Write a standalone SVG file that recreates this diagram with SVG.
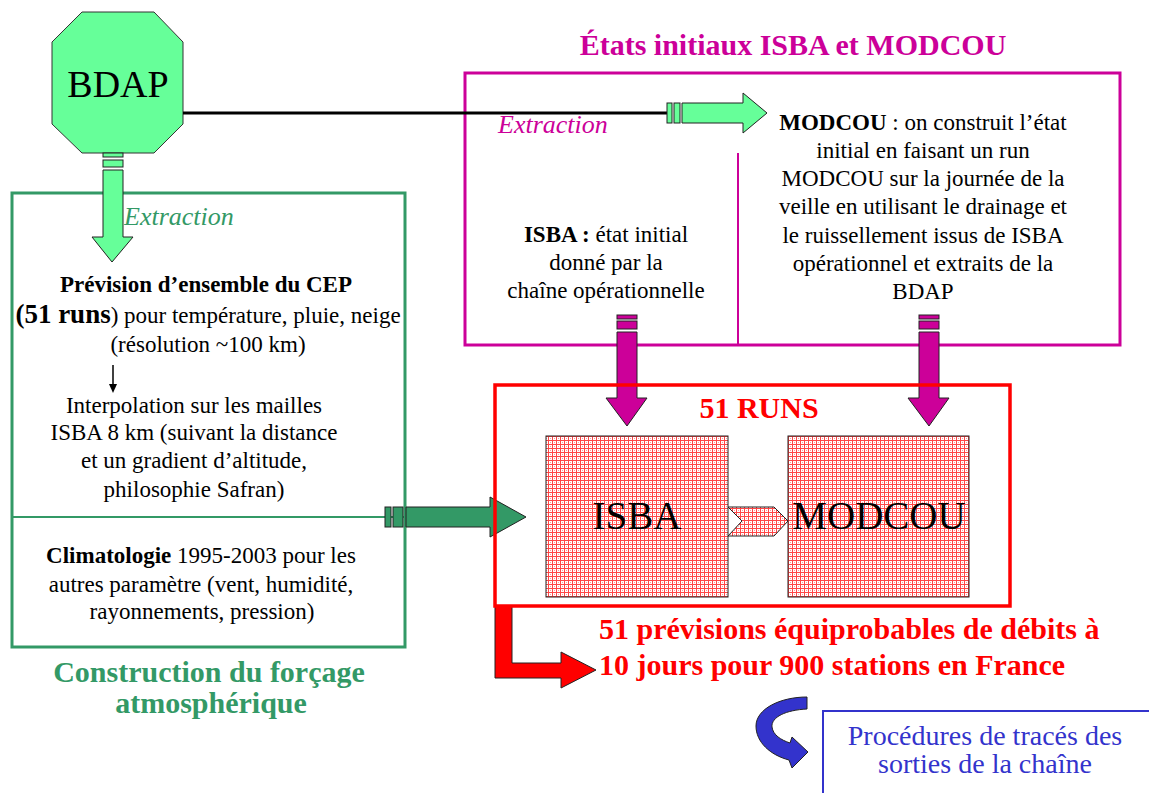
<svg xmlns="http://www.w3.org/2000/svg" width="1149" height="793" viewBox="0 0 1149 793">
<style>
.t{font-family:"Liberation Serif","Times New Roman",Tinos,"DejaVu Serif","Noto Serif",serif;font-size:23px;fill:#000}
.b{font-weight:bold}
.c{text-anchor:middle}
.ar{stroke:#222;stroke-width:1}
</style>
<defs>
<pattern id="hatch" width="4" height="4" patternUnits="userSpaceOnUse">
<rect width="4" height="4" fill="#fff"/>
<path d="M0 0.5H4M0.5 0V4" stroke="#ff4646" stroke-width="1"/>
<rect x="2" y="2" width="1" height="1" fill="#ff9a9a"/>
</pattern>
</defs>
<rect width="1149" height="793" fill="#fff"/>

<g id="etats">
<rect x="465" y="73" width="655" height="272" fill="none" stroke="#cc0099" stroke-width="3"/>
<line x1="738" y1="153" x2="738" y2="345" stroke="#cc0099" stroke-width="2"/>
<text class="t b c" x="793" y="55" style="font-size:30px;fill:#cc0099">États initiaux ISBA et MODCOU</text>
<text class="t c" x="606" y="242"><tspan class="b">ISBA :</tspan> état initial</text>
<text class="t c" x="606" y="270">donné par la</text>
<text class="t c" x="606" y="298">chaîne opérationnelle</text>
<text class="t c" x="923" y="130"><tspan class="b">MODCOU</tspan> : on construit l’état</text>
<text class="t c" x="923" y="158">initial en faisant un run</text>
<text class="t c" x="923" y="186">MODCOU sur la journée de la</text>
<text class="t c" x="923" y="214">veille en utilisant le drainage et</text>
<text class="t c" x="923" y="243">le ruissellement issus de ISBA</text>
<text class="t c" x="923" y="271">opérationnel et extraits de la</text>
<text class="t c" x="923" y="299">BDAP</text>
</g>

<g id="forcage">
<rect x="12" y="193" width="393" height="454" fill="none" stroke="#339966" stroke-width="3"/>
<line x1="12" y1="517" x2="405" y2="517" stroke="#339966" stroke-width="2"/>
<text class="t b c" x="206" y="292">Prévision d’ensemble du CEP</text>
<text class="t c" x="208" y="323"><tspan class="b" style="font-size:27px">(51 runs</tspan>) pour température, pluie, neige</text>
<text class="t c" x="208" y="352">(résolution ~100 km)</text>
<line x1="113" y1="365" x2="113" y2="385" stroke="#000" stroke-width="1.5"/>
<polygon points="109,384 117,384 113,393" fill="#000"/>
<text class="t c" x="194" y="413">Interpolation sur les mailles</text>
<text class="t c" x="194" y="440">ISBA 8 km (suivant la distance</text>
<text class="t c" x="194" y="468">et un gradient d’altitude,</text>
<text class="t c" x="194" y="497">philosophie Safran)</text>
<text class="t c" x="201" y="563"><tspan class="b">Climatologie</tspan> 1995-2003 pour les</text>
<text class="t c" x="201" y="592">autres paramètre (vent, humidité,</text>
<text class="t c" x="202" y="619">rayonnements, pression)</text>
<text class="t b c" x="209" y="682" style="font-size:30px;fill:#339966">Construction du forçage</text>
<text class="t b c" x="211" y="713" style="font-size:30px;fill:#339966">atmosphérique</text>
</g>

<g id="bdap">
<polygon points="82,12 154,12 183,42 183,124 154,153 82,153 52,124 52,42" fill="#66ff99" stroke="#333" stroke-width="1"/>
<text class="t c" x="118" y="97" style="font-size:38px">BDAP</text>
</g>

<g id="connectors">
<line x1="183" y1="113" x2="667" y2="113" stroke="#000" stroke-width="3"/>
<rect class="ar" x="667" y="103" width="5" height="20" fill="#66ff99"/>
<rect class="ar" x="674" y="103" width="6" height="20" fill="#66ff99"/>
<polygon class="ar" points="682,103 743,103 743,93 767,113 743,133 743,123 682,123" fill="#66ff99"/>
<text class="t" x="498" y="133" style="font-size:26px;font-style:italic;fill:#cc0099">Extraction</text>

<rect class="ar" x="103" y="153" width="20" height="4" fill="#66ff99"/>
<rect class="ar" x="103" y="160" width="20" height="7" fill="#66ff99"/>
<polygon class="ar" points="103,170 123,170 123,237 133,237 112,262 92,237 103,237" fill="#66ff99"/>
<text class="t" x="124" y="225" style="font-size:26px;font-style:italic;fill:#339966">Extraction</text>

<rect class="ar" x="385" y="507" width="6" height="20" fill="#339966"/>
<rect class="ar" x="393" y="507" width="10" height="20" fill="#339966"/>
<polygon class="ar" points="406,507 490,507 490,497 526,517 490,537 490,527 406,527" fill="#339966"/>

<rect class="ar" x="617" y="315" width="20" height="4" fill="#cc0099"/>
<rect class="ar" x="617" y="321" width="20" height="8" fill="#cc0099"/>
<polygon class="ar" points="617,332 637,332 637,398 647,398 627,426 606,398 617,398" fill="#cc0099"/>
<rect class="ar" x="919" y="315" width="20" height="4" fill="#cc0099"/>
<rect class="ar" x="919" y="321" width="20" height="8" fill="#cc0099"/>
<polygon class="ar" points="919,332 939,332 939,398 949,398 929,426 908,398 919,398" fill="#cc0099"/>

<polygon class="ar" points="728,507 774,507 788,521 774,536 728,536 742,521" fill="url(#hatch)"/>

<polygon class="ar" points="495,606 512,606 512,663 561,663 561,652 596,670 561,688 561,678 495,678" fill="#ff0000"/>

<path class="ar" d="M807,697 L807,709 C786,710 771,717 772,727 C773,735 781,740 790,743 L792,737 L808,752 L792,768 L789,760 C770,755 756,742 756,726 C756,709 780,697 807,697 Z" fill="#3333cc"/>
</g>

<g id="runs">
<rect x="495" y="385" width="515" height="221" fill="none" stroke="#ff0000" stroke-width="3.5"/>
<text class="t b c" x="759" y="418" style="font-size:30px;fill:#ff0000">51 RUNS</text>
</g>

<g id="isba">
<rect x="546" y="436" width="182" height="161" fill="url(#hatch)" stroke="#222" stroke-width="1"/>
<text class="t c" x="637" y="529" style="font-size:39px">ISBA</text>
</g>

<g id="modcou">
<rect x="788" y="436" width="181" height="161" fill="url(#hatch)" stroke="#222" stroke-width="1"/>
<text class="t c" x="879" y="529" style="font-size:39px">MODCOU</text>
</g>

<g id="previsions">
<text class="t b" x="599" y="639" style="font-size:30px;fill:#ff0000">51 prévisions équiprobables de débits à</text>
<text class="t b" x="599" y="675" style="font-size:30px;fill:#ff0000">10 jours pour 900 stations en France</text>
</g>

<g id="procedures">
<rect x="823" y="711" width="340" height="100" fill="none" stroke="#3333cc" stroke-width="2"/>
<text class="t c" x="985" y="745" style="font-size:28px;fill:#3333cc">Procédures de tracés des</text>
<text class="t c" x="985" y="773" style="font-size:28px;fill:#3333cc">sorties de la chaîne</text>
</g>
</svg>
